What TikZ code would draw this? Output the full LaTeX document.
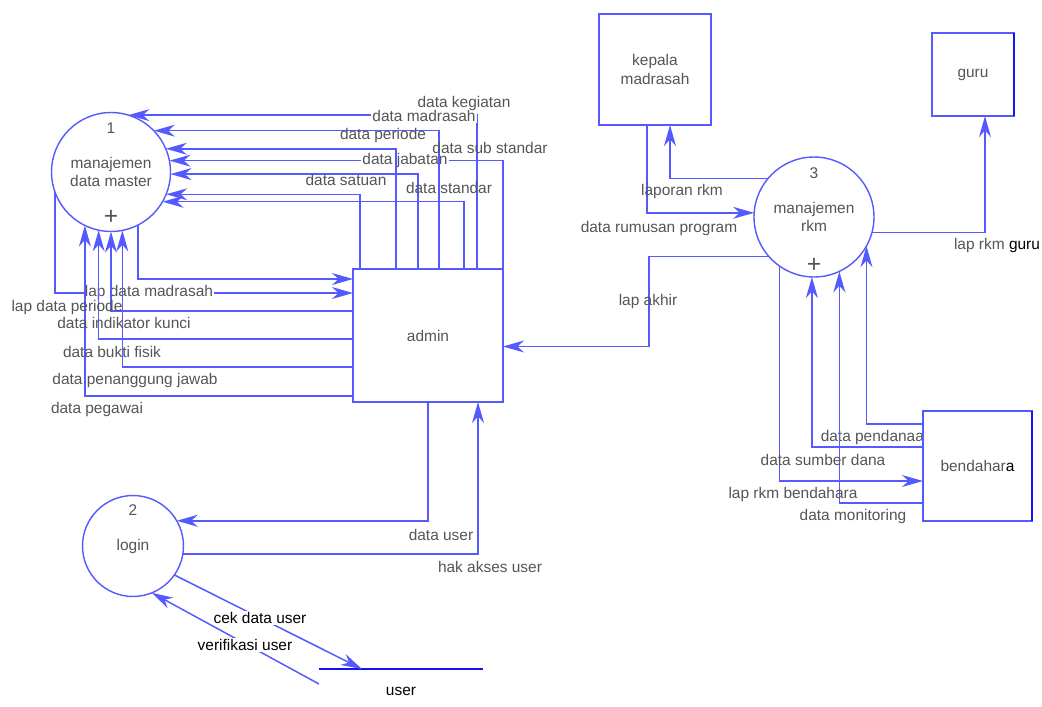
\documentclass[tikz,border=0pt]{standalone}
\usepackage{fontspec}
\setmainfont{Liberation Sans}
\usetikzlibrary{arrows.meta,calc}
\definecolor{flowblue}{RGB}{84,90,255}
\definecolor{darkblue}{RGB}{20,20,240}
\definecolor{labelgray}{RGB}{85,85,85}
\begin{document}
\begin{tikzpicture}[
    x=0.02cm, y=-0.02cm,
    font=\fontsize{8.8pt}{10.6pt}\selectfont,
    process/.style={circle, draw=flowblue, line width=0.8pt, fill=white, inner sep=0pt, outer sep=0pt, text=labelgray, align=center},
    entity/.style={rectangle, draw=flowblue, line width=0.8pt, fill=white, inner sep=0pt, outer sep=0pt, text=labelgray, align=center},
    store/.style={minimum width=3.28cm, minimum height=0.88cm, inner sep=0pt, outer sep=0pt},
    tag/.style={text=labelgray, inner sep=0.8pt},
    plus/.style={text=labelgray, inner sep=0pt, font=\fontsize{14pt}{14pt}\selectfont},
    arrow/.style={draw=flowblue, line width=0.85pt, -{Stealth[length=12pt, width=6.8pt, inset=3.8pt]}},
    link/.style={draw=flowblue, line width=0.85pt}
]
    \useasboundingbox (0,0) rectangle (1042,707);

    % processes
    \node (master) [process, minimum size=2.38cm] at (111,172) {manajemen\\data master};
    \node (login) [process, minimum size=2.02cm] at (133,546) {login};
    \node (rkm) [process, minimum size=2.4cm] at (814,217) {manajemen\\rkm};
    \node (masternum) [tag] at ($(master)+(0,-44)$) {1};
    \node (masterplus) [plus] at ($(master)+(0,45)$) {+};
    \node (loginnum) [tag] at ($(login)+(0,-36)$) {2};
    \node (rkmnum) [tag] at ($(rkm)+(0,-44)$) {3};
    \node (rkmplus) [plus] at ($(rkm)+(0,48)$) {+};

    % external entities
    \node (admin) [entity, minimum width=3cm, minimum height=2.66cm] at (428,335.5) {admin};
    \node (kepala) [entity, minimum width=2.24cm, minimum height=2.22cm] at (655,69.5) {kepala\\madrasah};
    \node (guru) [entity, minimum width=1.64cm, minimum height=1.66cm] at (973,74.5) {guru};
    \node (lpendanaan) [tag, anchor=west] at (819,437) {data pendanaan};
    \node (bendahara) [entity, minimum width=2.18cm, minimum height=2.2cm] at (977.5,466) {bendahar\textcolor{black}{a}};
    \draw [darkblue, line width=0.8pt] (guru.north east) -- (guru.south east);
    \draw [darkblue, line width=0.8pt] (bendahara.north east) -- (bendahara.south east);

    % data store
    \node (user) [store] at (401,691) {user};
    \draw [darkblue, line width=0.9pt] (user.north west) -- (user.north east);

    % admin -> manajemen data master
    \draw [arrow] ($(admin.north west)+(124,0)$) |- (master.73);
    \node (lmadrasah) [tag, fill=white] at (424,116) {data madrasah};
    \draw [arrow] (admin.north east) |- (master.11);
    \node (ljabatan) [tag, fill=white] at (405,160) {data jabatan};
    \draw [arrow] ($(admin.north west)+(7,0)$) |- (master.-22);
    \draw [arrow] ($(admin.north west)+(43,0)$) |- (master.23);
    \draw [arrow] ($(admin.north west)+(65,0)$) |- (master.-2);
    \draw [arrow] ($(admin.north west)+(86,0)$) |- (master.44);
    \draw [arrow] ($(admin.north west)+(111,0)$) |- (master.-30);

    \draw [arrow] (master.-63) |- ($(admin.north west)+(0,10)$);
    \draw [arrow] (master.200) |- ($(admin.north west)+(0,24)$);
    \node (llapmadrasah) [tag, fill=white] at (149,292) {lap data madrasah};
    \draw [arrow] ($(admin.north west)+(0,42)$) -| (master.south);
    \draw [arrow] ($(admin.north west)+(0,70)$) -| (master.258);
    \draw [arrow] ($(admin.north west)+(0,98)$) -| (master.281);
    \draw [arrow] ($(admin.north west)+(0,127)$) -| (master.244);

    \node (lkegiatan) [tag] at (464,103) {data kegiatan};
    \node (lperiode) [tag] at (383,135) {data periode};
    \node (lsubstandar) [tag] at (490,148) {data sub standar};
    \node (lsatuan) [tag] at (346,180) {data satuan};
    \node (lstandar) [tag] at (449,188) {data standar};
    \node (llapperiode) [tag] at (67,307) {lap data periode};
    \node (lindikator) [tag] at (124,323) {data indikator kunci};
    \node (lbukti) [tag] at (112,352) {data bukti fisik};
    \node (lpenanggung) [tag] at (135,380) {data penanggung jawab};
    \node (lpegawai) [tag] at (97,409) {data pegawai};

    % admin <-> login
    \draw [arrow] (admin.south) |- (login.30);
    \draw [arrow] (login.-9) -| ($(admin.south west)+(125,0)$);
    \node (ldatauser) [tag] at (441,535) {data user};
    \node (lhakakses) [tag] at (490,567) {hak akses user};

    % login <-> user
    \draw [arrow] (login.-35) -- ($(user.north west)+(43,0)$);
    \node (lcek) [tag, fill=white, text=black] at (260,618) {cek data user};
    \draw [arrow] ($(user.north west)+(0,15)$) -- (login.-68);
    \node (lverifikasi) [tag, fill=white, text=black] at (245,645) {verifikasi user};

    % manajemen rkm
    \draw [arrow] (rkm.140) -| ($(kepala.south)+(15,0)$);
    \draw [arrow] ($(kepala.south)+(-8,0)$) |- (rkm.176);
    \draw [arrow] (rkm.221) -| ($(admin.east)+(146,11)$) -- ($(admin.east)+(0,11)$);
    \draw [arrow] (rkm.-15) -| ($(guru.south)+(12,0)$);
    \draw [arrow] (rkm.235) |- ($(bendahara.north west)+(0,70)$);
    \draw [arrow] ($(bendahara.north west)+(0,36)$) -| (rkm.268);
    \draw [arrow] ($(bendahara.north west)+(0,92)$) -| (rkm.295);
    \draw [arrow] ($(bendahara.north west)+(0,13)$) -| (rkm.331);

    \node (llaporan) [tag] at (682,191) {laporan rkm};
    \node (lrumusan) [tag] at (659,228) {data rumusan program};
    \node (llapakhir) [tag] at (648,301) {lap akhir};
    \node (llapguru) [tag] at (997,245) {lap rkm \textcolor{black}{guru}};
    \node (lsumber) [tag] at (823,460) {data sumber dana};
    \node (llapbendahara) [tag] at (793,494) {lap rkm bendahara};
    \node (lmonitoring) [tag] at (853,516) {data monitoring};
\end{tikzpicture}
\end{document}
